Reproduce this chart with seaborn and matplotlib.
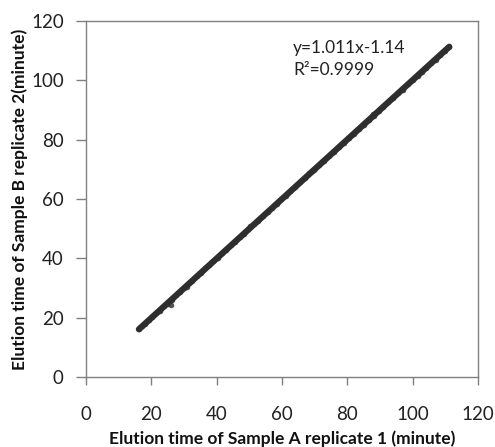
import matplotlib
matplotlib.use("Agg")
import matplotlib.pyplot as plt
import seaborn as sns
import pandas as pd

# Data
sample_a_rep1 = [16.2, 17.1, 18.0, 19.2, 20.3, 21.5, 22.6, 23.8, 25.0, 26.1, 26.4, 27.5,
                 28.7, 29.9, 31.0, 31.5, 32.6, 33.9, 35.2, 36.5, 37.8, 39.0, 40.4, 41.7,
                 43.0, 44.3, 45.6, 47.0, 48.3, 49.6, 50.2, 51.5, 52.8, 54.2, 55.6, 57.0,
                 58.4, 59.8, 61.2, 62.6, 64.0, 65.5, 67.0, 68.4, 69.9, 71.4, 72.9, 74.4,
                 75.9, 77.4, 78.9, 80.4, 82.0, 83.5, 85.0, 86.5, 87.8, 88.3, 89.6, 91.0,
                 92.5, 94.0, 95.5, 97.0, 98.5, 100.0, 101.5, 103.0, 104.2, 105.6, 107.0,
                 108.4, 109.8, 111.2]
sample_b_rep2 = [16.1, 17.3, 17.9, 19.3, 20.1, 21.6, 22.4, 23.9, 24.7, 24.3, 25.9, 27.6,
                 28.5, 30.1, 30.2, 31.8, 32.5, 34.1, 35.0, 36.6, 37.7, 39.2, 40.2, 41.8,
                 42.9, 44.5, 45.5, 47.1, 48.2, 49.8, 51.0, 51.6, 52.7, 54.4, 55.5, 57.1,
                 58.3, 60.0, 61.1, 62.7, 63.9, 65.6, 67.0, 68.6, 69.8, 71.5, 72.8, 74.6,
                 75.8, 77.5, 78.9, 80.6, 81.9, 83.6, 85.0, 86.7, 88.6, 87.9, 89.8, 90.9,
                 92.6, 94.0, 95.6, 96.9, 98.7, 100.0, 101.6, 102.9, 104.0, 105.8, 107.0,
                 108.5, 109.9, 111.3]
x_ticks = [0, 20, 40, 60, 80, 100, 120]
y_ticks = [0, 20, 40, 60, 80, 100, 120]
equation_text = "y=1.011x-1.14"
r2_text = "R\u00b2=0.9999"
x_label = "Elution time of Sample A replicate 1 (minute)"
y_label = "Elution time of Sample B replicate 2(minute)"

df = pd.DataFrame({"a": sample_a_rep1, "b": sample_b_rep2})

sns.set_style("ticks")
plt.rcParams["font.family"] = ["Lato", "DejaVu Sans"]

fig = plt.figure(figsize=(4.95, 4.47), dpi=100)
W, H = 495, 447
ax = fig.add_axes([86 / W, (H - 377) / H, 392 / W, 356 / H])

sns.regplot(data=df, x="a", y="b", ax=ax, ci=None,
            scatter_kws=dict(s=16, color="#444444", marker="D", linewidths=0, alpha=0.9),
            line_kws=dict(color="#2e2e2e", linewidth=4.5))

ax.set_xlim(0, 120)
ax.set_ylim(0, 120)
ax.set_xticks(x_ticks)
ax.set_yticks(y_ticks)
ax.set_xticklabels([str(t) for t in x_ticks])
ax.set_yticklabels([str(t) for t in y_ticks])

for s in ax.spines.values():
    s.set_visible(True)
    s.set_color("#808080")
    s.set_linewidth(1.0)

ax.tick_params(axis="x", direction="out", length=6, width=1, color="#808080",
               labelsize=13.5, labelcolor="#222222", pad=15)
ax.tick_params(axis="y", direction="out", length=7, width=1, color="#808080",
               labelsize=13.5, labelcolor="#222222", pad=9)

ax.set_xlabel(x_label, fontsize=12.5, fontweight="bold", color="#111111", labelpad=5)
ax.set_ylabel(y_label, fontsize=12.5, fontweight="bold", color="#111111", labelpad=2.5)

ax.text(63.4, 111, equation_text, fontsize=12.5, color="#222222", va="center", ha="left")
ax.text(63.4, 103.5, r2_text, fontsize=12.5, color="#222222", va="center", ha="left")

fig.savefig("out.png", dpi=100)
